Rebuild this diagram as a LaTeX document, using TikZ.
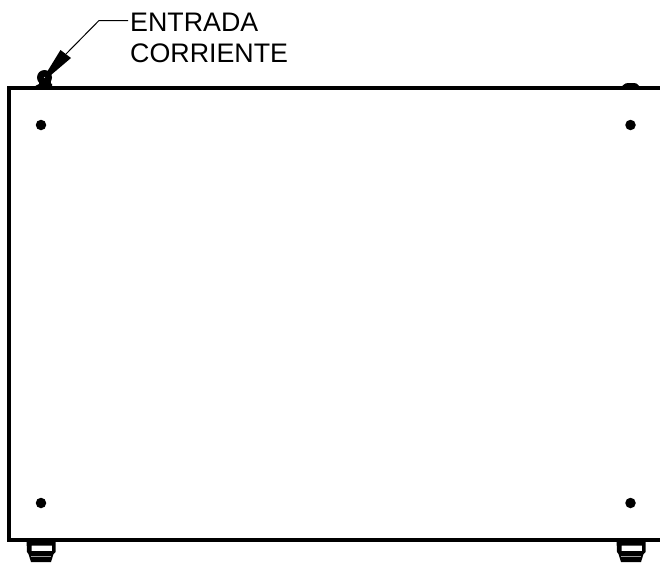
\documentclass[tikz,border=0pt]{standalone}
\usepackage{fontspec}
\setmainfont{Liberation Sans}
\tikzset{
  outline/.style={line width=3.2pt,line cap=butt},
  hole/.style={circle,fill=black,inner sep=0pt,minimum size=10.5pt,draw=none},
  label/.style={anchor=base west,inner sep=0pt,font=\fontsize{26.8}{31}\selectfont},
  leader/.style={line width=1pt}
}
\begin{document}
\begin{tikzpicture}[x=1pt,y=-1pt]
\useasboundingbox (0,0) rectangle (660,562);
% feet
\foreach \x in {0,590}{
  \fill[black,even odd rule] (26.5+\x,540) -- (55.5+\x,540) -- (55.5+\x,552) -- (53.5+\x,554) -- (51+\x,562) -- (31+\x,562) -- (28.5+\x,554) -- (27+\x,552) -- cycle
    (31.5+\x,545.5) rectangle (52+\x,551);
  \draw[white!60!black,line width=0.5pt] (31+\x,556.5) -- (51+\x,556.5);
}
% top bumps
\fill[black] (32,88) .. controls (36,86) and (38,83.5) .. (42,83.5) -- (52,83.5) -- (52,88) -- cycle;
\fill[black] (620,88) .. controls (623,86) and (624,83) .. (628,83) -- (634,83) .. controls (638,83) and (638,86) .. (641,88) -- cycle;
\fill[black] (39,78) rectangle (51,88);
% box
\draw[outline] (9,88) -- (660,88);
\draw[outline] (660,540) -- (7.5,540);
\draw[outline] (9,86.4) -- (9,541.6);
% holes
\node[hole] (h1) at (41,125) {};
\node[hole] (h2) at (630.5,125) {};
\node[hole] (h3) at (41,503) {};
\node[hole] (h4) at (630.5,503) {};
% gland
\node[circle,fill=black,inner sep=0pt,minimum size=15pt] (gland) at (44.5,77.5) {};
\fill[white!70!black] (gland.center) circle (0.7pt);
% labels
\node[label] (ent) at (130,31) {ENTRADA};
\node[label] (cor) at (130,62) {CORRIENTE};
% arrow
\coordinate (elbow) at (99,20.5);
\coordinate (end) at (128,20.5);
\fill[black] (47,72) -- (60.5,50) -- (71,58) -- (51,75) -- cycle;
\draw[leader] (66,54) -- (elbow) -- (end);
\end{tikzpicture}
\end{document}
